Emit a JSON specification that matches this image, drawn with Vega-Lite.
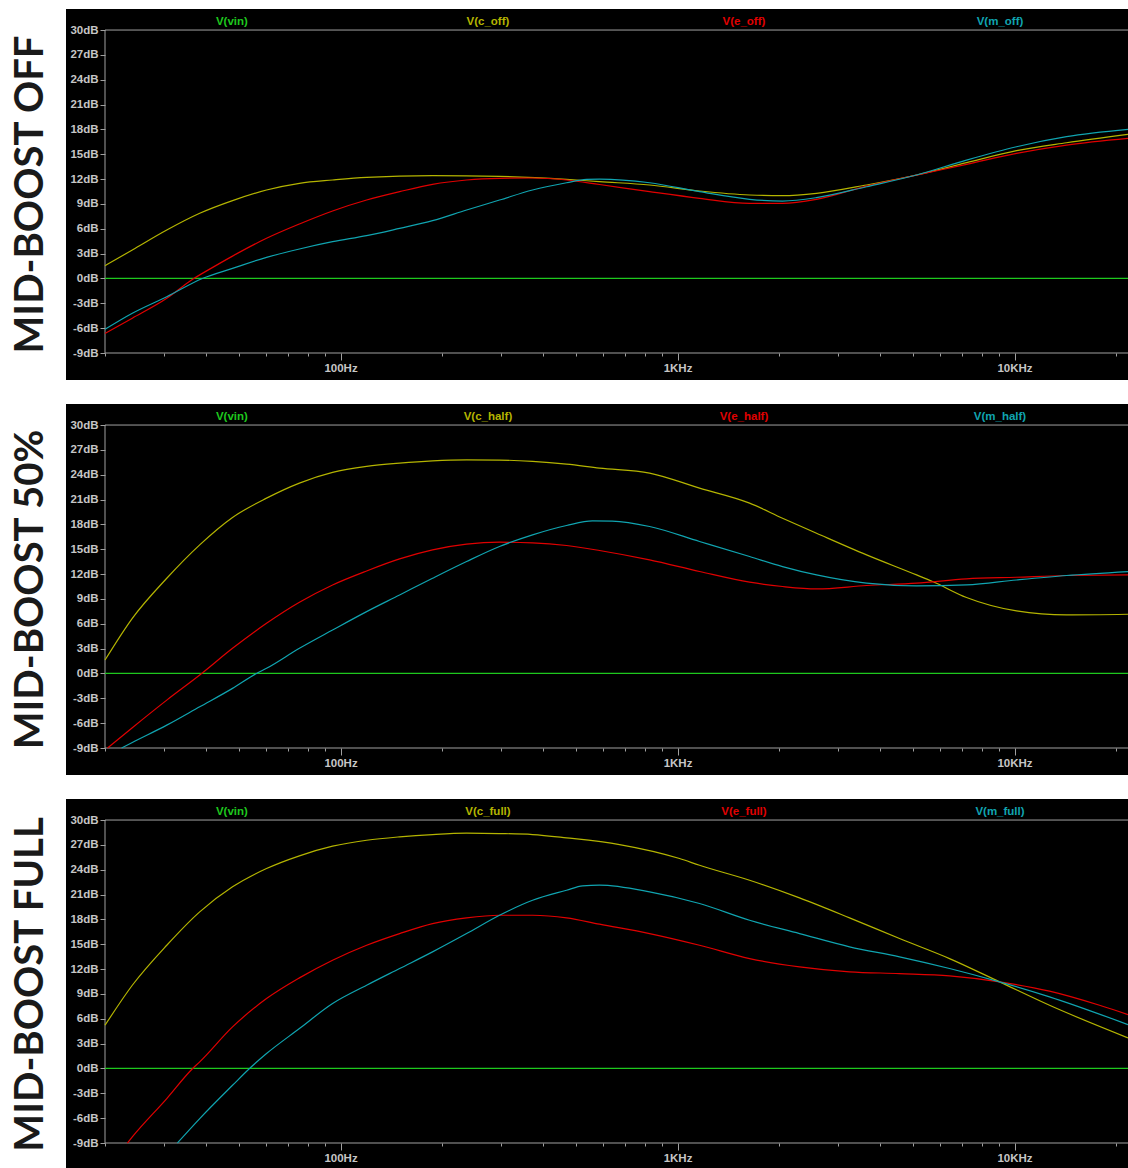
{
  "$schema": "https://vega.github.io/schema/vega-lite/v6.json",
  "background": "white",
  "padding": {"left": 10, "top": 9, "right": 0, "bottom": 0},
  "spacing": 24,
  "datasets": {
    "labels": [
      {"p": "off", "s": "V(vin)"}, {"p": "off", "s": "V(c_off)"}, {"p": "off", "s": "V(e_off)"}, {"p": "off", "s": "V(m_off)"},
      {"p": "half", "s": "V(vin)"}, {"p": "half", "s": "V(c_half)"}, {"p": "half", "s": "V(e_half)"}, {"p": "half", "s": "V(m_half)"},
      {"p": "full", "s": "V(vin)"}, {"p": "full", "s": "V(c_full)"}, {"p": "full", "s": "V(e_full)"}, {"p": "full", "s": "V(m_full)"}
    ],
    "curves": [
      {"p": "off", "s": "V(vin)", "f": 20, "db": 0}, {"p": "off", "s": "V(vin)", "f": 21713, "db": 0},
      {"p": "half", "s": "V(vin)", "f": 20, "db": 0}, {"p": "half", "s": "V(vin)", "f": 21713, "db": 0},
      {"p": "full", "s": "V(vin)", "f": 20, "db": 0}, {"p": "full", "s": "V(vin)", "f": 21713, "db": 0},

      {"p": "off", "s": "V(c_off)", "f": 20, "db": 1.54},
      {"p": "off", "s": "V(c_off)", "f": 24.1, "db": 3.44},
      {"p": "off", "s": "V(c_off)", "f": 30.5, "db": 5.85},
      {"p": "off", "s": "V(c_off)", "f": 38.2, "db": 7.87},
      {"p": "off", "s": "V(c_off)", "f": 47.8, "db": 9.4},
      {"p": "off", "s": "V(c_off)", "f": 60.3, "db": 10.68},
      {"p": "off", "s": "V(c_off)", "f": 75.5, "db": 11.49},
      {"p": "off", "s": "V(c_off)", "f": 94.7, "db": 11.89},
      {"p": "off", "s": "V(c_off)", "f": 119.5, "db": 12.21},
      {"p": "off", "s": "V(c_off)", "f": 187.5, "db": 12.41},
      {"p": "off", "s": "V(c_off)", "f": 296.3, "db": 12.33},
      {"p": "off", "s": "V(c_off)", "f": 468.4, "db": 11.97},
      {"p": "off", "s": "V(c_off)", "f": 586.8, "db": 11.69},
      {"p": "off", "s": "V(c_off)", "f": 826, "db": 11.29},
      {"p": "off", "s": "V(c_off)", "f": 1162, "db": 10.56},
      {"p": "off", "s": "V(c_off)", "f": 1636, "db": 10.08},
      {"p": "off", "s": "V(c_off)", "f": 2049, "db": 10.0},
      {"p": "off", "s": "V(c_off)", "f": 2585, "db": 10.28},
      {"p": "off", "s": "V(c_off)", "f": 3638, "db": 11.29},
      {"p": "off", "s": "V(c_off)", "f": 5120, "db": 12.49},
      {"p": "off", "s": "V(c_off)", "f": 7204, "db": 13.98},
      {"p": "off", "s": "V(c_off)", "f": 10137, "db": 15.43},
      {"p": "off", "s": "V(c_off)", "f": 14266, "db": 16.39},
      {"p": "off", "s": "V(c_off)", "f": 21713, "db": 17.4},

      {"p": "off", "s": "V(e_off)", "f": 20, "db": -6.63},
      {"p": "off", "s": "V(e_off)", "f": 24.1, "db": -4.8},
      {"p": "off", "s": "V(e_off)", "f": 30.5, "db": -2.4},
      {"p": "off", "s": "V(e_off)", "f": 36.4, "db": -0.1},
      {"p": "off", "s": "V(e_off)", "f": 42, "db": 1.4},
      {"p": "off", "s": "V(e_off)", "f": 47.8, "db": 2.7},
      {"p": "off", "s": "V(e_off)", "f": 60.3, "db": 4.85},
      {"p": "off", "s": "V(e_off)", "f": 75.5, "db": 6.58},
      {"p": "off", "s": "V(e_off)", "f": 94.7, "db": 8.15},
      {"p": "off", "s": "V(e_off)", "f": 119.5, "db": 9.47},
      {"p": "off", "s": "V(e_off)", "f": 149.7, "db": 10.48},
      {"p": "off", "s": "V(e_off)", "f": 187.5, "db": 11.37},
      {"p": "off", "s": "V(e_off)", "f": 236.6, "db": 11.89},
      {"p": "off", "s": "V(e_off)", "f": 296.3, "db": 12.09},
      {"p": "off", "s": "V(e_off)", "f": 371.3, "db": 12.13},
      {"p": "off", "s": "V(e_off)", "f": 468.4, "db": 11.89},
      {"p": "off", "s": "V(e_off)", "f": 586.8, "db": 11.35},
      {"p": "off", "s": "V(e_off)", "f": 826, "db": 10.48},
      {"p": "off", "s": "V(e_off)", "f": 1162, "db": 9.68},
      {"p": "off", "s": "V(e_off)", "f": 1636, "db": 9.07},
      {"p": "off", "s": "V(e_off)", "f": 2049, "db": 9.07},
      {"p": "off", "s": "V(e_off)", "f": 2585, "db": 9.56},
      {"p": "off", "s": "V(e_off)", "f": 3638, "db": 11.16},
      {"p": "off", "s": "V(e_off)", "f": 5120, "db": 12.49},
      {"p": "off", "s": "V(e_off)", "f": 7204, "db": 13.78},
      {"p": "off", "s": "V(e_off)", "f": 10137, "db": 15.11},
      {"p": "off", "s": "V(e_off)", "f": 14266, "db": 16.11},
      {"p": "off", "s": "V(e_off)", "f": 21713, "db": 16.92},

      {"p": "off", "s": "V(m_off)", "f": 20, "db": -6.14},
      {"p": "off", "s": "V(m_off)", "f": 24.1, "db": -4.2},
      {"p": "off", "s": "V(m_off)", "f": 30.5, "db": -2.2},
      {"p": "off", "s": "V(m_off)", "f": 38.9, "db": 0.0},
      {"p": "off", "s": "V(m_off)", "f": 47.8, "db": 1.22},
      {"p": "off", "s": "V(m_off)", "f": 60.3, "db": 2.55},
      {"p": "off", "s": "V(m_off)", "f": 75.5, "db": 3.56},
      {"p": "off", "s": "V(m_off)", "f": 94.7, "db": 4.44},
      {"p": "off", "s": "V(m_off)", "f": 119.5, "db": 5.17},
      {"p": "off", "s": "V(m_off)", "f": 149.7, "db": 6.05},
      {"p": "off", "s": "V(m_off)", "f": 187.5, "db": 6.98},
      {"p": "off", "s": "V(m_off)", "f": 236.6, "db": 8.27},
      {"p": "off", "s": "V(m_off)", "f": 296.3, "db": 9.47},
      {"p": "off", "s": "V(m_off)", "f": 371.3, "db": 10.68},
      {"p": "off", "s": "V(m_off)", "f": 468.4, "db": 11.56},
      {"p": "off", "s": "V(m_off)", "f": 537, "db": 11.97},
      {"p": "off", "s": "V(m_off)", "f": 586.8, "db": 12.0},
      {"p": "off", "s": "V(m_off)", "f": 826, "db": 11.56},
      {"p": "off", "s": "V(m_off)", "f": 1162, "db": 10.48},
      {"p": "off", "s": "V(m_off)", "f": 1636, "db": 9.56},
      {"p": "off", "s": "V(m_off)", "f": 2049, "db": 9.35},
      {"p": "off", "s": "V(m_off)", "f": 2585, "db": 9.76},
      {"p": "off", "s": "V(m_off)", "f": 3638, "db": 11.08},
      {"p": "off", "s": "V(m_off)", "f": 5120, "db": 12.49},
      {"p": "off", "s": "V(m_off)", "f": 7204, "db": 14.3},
      {"p": "off", "s": "V(m_off)", "f": 10137, "db": 15.91},
      {"p": "off", "s": "V(m_off)", "f": 14266, "db": 17.12},
      {"p": "off", "s": "V(m_off)", "f": 21713, "db": 18.0},

      {"p": "half", "s": "V(c_half)", "f": 20, "db": 1.62},
      {"p": "half", "s": "V(c_half)", "f": 24.1, "db": 6.66},
      {"p": "half", "s": "V(c_half)", "f": 30.5, "db": 11.5},
      {"p": "half", "s": "V(c_half)", "f": 38.2, "db": 15.53},
      {"p": "half", "s": "V(c_half)", "f": 47.8, "db": 18.84},
      {"p": "half", "s": "V(c_half)", "f": 60.3, "db": 21.17},
      {"p": "half", "s": "V(c_half)", "f": 75.5, "db": 22.99},
      {"p": "half", "s": "V(c_half)", "f": 94.7, "db": 24.28},
      {"p": "half", "s": "V(c_half)", "f": 119.5, "db": 25.0},
      {"p": "half", "s": "V(c_half)", "f": 149.7, "db": 25.4},
      {"p": "half", "s": "V(c_half)", "f": 187.5, "db": 25.68},
      {"p": "half", "s": "V(c_half)", "f": 236.6, "db": 25.8},
      {"p": "half", "s": "V(c_half)", "f": 296.3, "db": 25.77},
      {"p": "half", "s": "V(c_half)", "f": 371.3, "db": 25.61},
      {"p": "half", "s": "V(c_half)", "f": 468.4, "db": 25.28},
      {"p": "half", "s": "V(c_half)", "f": 586.8, "db": 24.8},
      {"p": "half", "s": "V(c_half)", "f": 826, "db": 24.2},
      {"p": "half", "s": "V(c_half)", "f": 1162, "db": 22.38},
      {"p": "half", "s": "V(c_half)", "f": 1636, "db": 20.57},
      {"p": "half", "s": "V(c_half)", "f": 2049, "db": 18.75},
      {"p": "half", "s": "V(c_half)", "f": 2585, "db": 16.94},
      {"p": "half", "s": "V(c_half)", "f": 3638, "db": 14.32},
      {"p": "half", "s": "V(c_half)", "f": 5120, "db": 11.9},
      {"p": "half", "s": "V(c_half)", "f": 5711, "db": 11.1},
      {"p": "half", "s": "V(c_half)", "f": 7204, "db": 9.17},
      {"p": "half", "s": "V(c_half)", "f": 10137, "db": 7.55},
      {"p": "half", "s": "V(c_half)", "f": 14266, "db": 7.07},
      {"p": "half", "s": "V(c_half)", "f": 21713, "db": 7.15},

      {"p": "half", "s": "V(e_half)", "f": 20.35, "db": -9.0},
      {"p": "half", "s": "V(e_half)", "f": 24.1, "db": -6.55},
      {"p": "half", "s": "V(e_half)", "f": 30.5, "db": -3.22},
      {"p": "half", "s": "V(e_half)", "f": 38.2, "db": -0.19},
      {"p": "half", "s": "V(e_half)", "f": 47.8, "db": 3.04},
      {"p": "half", "s": "V(e_half)", "f": 60.3, "db": 6.06},
      {"p": "half", "s": "V(e_half)", "f": 75.5, "db": 8.6},
      {"p": "half", "s": "V(e_half)", "f": 94.7, "db": 10.69},
      {"p": "half", "s": "V(e_half)", "f": 119.5, "db": 12.38},
      {"p": "half", "s": "V(e_half)", "f": 149.7, "db": 13.83},
      {"p": "half", "s": "V(e_half)", "f": 187.5, "db": 14.92},
      {"p": "half", "s": "V(e_half)", "f": 236.6, "db": 15.61},
      {"p": "half", "s": "V(e_half)", "f": 296.3, "db": 15.85},
      {"p": "half", "s": "V(e_half)", "f": 371.3, "db": 15.77},
      {"p": "half", "s": "V(e_half)", "f": 468.4, "db": 15.45},
      {"p": "half", "s": "V(e_half)", "f": 586.8, "db": 14.85},
      {"p": "half", "s": "V(e_half)", "f": 826, "db": 13.71},
      {"p": "half", "s": "V(e_half)", "f": 1162, "db": 12.31},
      {"p": "half", "s": "V(e_half)", "f": 1636, "db": 11.02},
      {"p": "half", "s": "V(e_half)", "f": 2049, "db": 10.5},
      {"p": "half", "s": "V(e_half)", "f": 2585, "db": 10.21},
      {"p": "half", "s": "V(e_half)", "f": 3638, "db": 10.62},
      {"p": "half", "s": "V(e_half)", "f": 5120, "db": 10.9},
      {"p": "half", "s": "V(e_half)", "f": 7204, "db": 11.42},
      {"p": "half", "s": "V(e_half)", "f": 10137, "db": 11.62},
      {"p": "half", "s": "V(e_half)", "f": 14266, "db": 11.83},
      {"p": "half", "s": "V(e_half)", "f": 21713, "db": 11.9},

      {"p": "half", "s": "V(m_half)", "f": 22.4, "db": -9.0},
      {"p": "half", "s": "V(m_half)", "f": 24.1, "db": -8.33},
      {"p": "half", "s": "V(m_half)", "f": 30.5, "db": -6.24},
      {"p": "half", "s": "V(m_half)", "f": 38.2, "db": -4.02},
      {"p": "half", "s": "V(m_half)", "f": 47.8, "db": -1.8},
      {"p": "half", "s": "V(m_half)", "f": 56.3, "db": 0.0},
      {"p": "half", "s": "V(m_half)", "f": 60.3, "db": 0.62},
      {"p": "half", "s": "V(m_half)", "f": 75.5, "db": 3.04},
      {"p": "half", "s": "V(m_half)", "f": 94.7, "db": 5.25},
      {"p": "half", "s": "V(m_half)", "f": 119.5, "db": 7.47},
      {"p": "half", "s": "V(m_half)", "f": 149.7, "db": 9.48},
      {"p": "half", "s": "V(m_half)", "f": 187.5, "db": 11.5},
      {"p": "half", "s": "V(m_half)", "f": 236.6, "db": 13.52},
      {"p": "half", "s": "V(m_half)", "f": 296.3, "db": 15.33},
      {"p": "half", "s": "V(m_half)", "f": 371.3, "db": 16.74},
      {"p": "half", "s": "V(m_half)", "f": 468.4, "db": 17.87},
      {"p": "half", "s": "V(m_half)", "f": 559.5, "db": 18.43},
      {"p": "half", "s": "V(m_half)", "f": 640, "db": 18.4},
      {"p": "half", "s": "V(m_half)", "f": 826, "db": 17.75},
      {"p": "half", "s": "V(m_half)", "f": 1162, "db": 15.94},
      {"p": "half", "s": "V(m_half)", "f": 1636, "db": 14.12},
      {"p": "half", "s": "V(m_half)", "f": 2049, "db": 12.91},
      {"p": "half", "s": "V(m_half)", "f": 2585, "db": 11.9},
      {"p": "half", "s": "V(m_half)", "f": 3638, "db": 10.9},
      {"p": "half", "s": "V(m_half)", "f": 5120, "db": 10.57},
      {"p": "half", "s": "V(m_half)", "f": 7204, "db": 10.69},
      {"p": "half", "s": "V(m_half)", "f": 10137, "db": 11.29},
      {"p": "half", "s": "V(m_half)", "f": 14266, "db": 11.83},
      {"p": "half", "s": "V(m_half)", "f": 21713, "db": 12.31},

      {"p": "full", "s": "V(c_full)", "f": 20, "db": 5.22},
      {"p": "full", "s": "V(c_full)", "f": 24.1, "db": 10.05},
      {"p": "full", "s": "V(c_full)", "f": 30.5, "db": 14.88},
      {"p": "full", "s": "V(c_full)", "f": 38.2, "db": 18.91},
      {"p": "full", "s": "V(c_full)", "f": 47.8, "db": 21.93},
      {"p": "full", "s": "V(c_full)", "f": 60.3, "db": 24.14},
      {"p": "full", "s": "V(c_full)", "f": 75.5, "db": 25.68},
      {"p": "full", "s": "V(c_full)", "f": 94.7, "db": 26.84},
      {"p": "full", "s": "V(c_full)", "f": 119.5, "db": 27.56},
      {"p": "full", "s": "V(c_full)", "f": 149.7, "db": 27.97},
      {"p": "full", "s": "V(c_full)", "f": 187.5, "db": 28.25},
      {"p": "full", "s": "V(c_full)", "f": 236.6, "db": 28.41},
      {"p": "full", "s": "V(c_full)", "f": 296.3, "db": 28.37},
      {"p": "full", "s": "V(c_full)", "f": 371.3, "db": 28.25},
      {"p": "full", "s": "V(c_full)", "f": 468.4, "db": 27.85},
      {"p": "full", "s": "V(c_full)", "f": 672.8, "db": 27.04},
      {"p": "full", "s": "V(c_full)", "f": 1014, "db": 25.35},
      {"p": "full", "s": "V(c_full)", "f": 1162, "db": 24.54},
      {"p": "full", "s": "V(c_full)", "f": 1636, "db": 22.73},
      {"p": "full", "s": "V(c_full)", "f": 2301, "db": 20.6},
      {"p": "full", "s": "V(c_full)", "f": 3239, "db": 18.19},
      {"p": "full", "s": "V(c_full)", "f": 4558, "db": 15.69},
      {"p": "full", "s": "V(c_full)", "f": 6414, "db": 13.27},
      {"p": "full", "s": "V(c_full)", "f": 9026, "db": 10.46},
      {"p": "full", "s": "V(c_full)", "f": 12702, "db": 7.63},
      {"p": "full", "s": "V(c_full)", "f": 21713, "db": 3.7},

      {"p": "full", "s": "V(e_full)", "f": 23.3, "db": -9.0},
      {"p": "full", "s": "V(e_full)", "f": 24.1, "db": -8.26},
      {"p": "full", "s": "V(e_full)", "f": 30.5, "db": -3.63},
      {"p": "full", "s": "V(e_full)", "f": 36.4, "db": 0.0},
      {"p": "full", "s": "V(e_full)", "f": 38.2, "db": 0.8},
      {"p": "full", "s": "V(e_full)", "f": 47.8, "db": 5.02},
      {"p": "full", "s": "V(e_full)", "f": 60.3, "db": 8.44},
      {"p": "full", "s": "V(e_full)", "f": 75.5, "db": 10.94},
      {"p": "full", "s": "V(e_full)", "f": 94.7, "db": 13.07},
      {"p": "full", "s": "V(e_full)", "f": 119.5, "db": 14.88},
      {"p": "full", "s": "V(e_full)", "f": 149.7, "db": 16.29},
      {"p": "full", "s": "V(e_full)", "f": 187.5, "db": 17.5},
      {"p": "full", "s": "V(e_full)", "f": 236.6, "db": 18.19},
      {"p": "full", "s": "V(e_full)", "f": 296.3, "db": 18.5},
      {"p": "full", "s": "V(e_full)", "f": 371.3, "db": 18.5},
      {"p": "full", "s": "V(e_full)", "f": 468.4, "db": 18.19},
      {"p": "full", "s": "V(e_full)", "f": 586.8, "db": 17.42},
      {"p": "full", "s": "V(e_full)", "f": 826, "db": 16.29},
      {"p": "full", "s": "V(e_full)", "f": 1162, "db": 14.88},
      {"p": "full", "s": "V(e_full)", "f": 1636, "db": 13.27},
      {"p": "full", "s": "V(e_full)", "f": 2301, "db": 12.27},
      {"p": "full", "s": "V(e_full)", "f": 3239, "db": 11.67},
      {"p": "full", "s": "V(e_full)", "f": 4558, "db": 11.46},
      {"p": "full", "s": "V(e_full)", "f": 6414, "db": 11.18},
      {"p": "full", "s": "V(e_full)", "f": 9026, "db": 10.46},
      {"p": "full", "s": "V(e_full)", "f": 12702, "db": 9.33},
      {"p": "full", "s": "V(e_full)", "f": 17875, "db": 7.63},
      {"p": "full", "s": "V(e_full)", "f": 21713, "db": 6.51},

      {"p": "full", "s": "V(m_full)", "f": 32.8, "db": -9.0},
      {"p": "full", "s": "V(m_full)", "f": 38.2, "db": -6.05},
      {"p": "full", "s": "V(m_full)", "f": 47.8, "db": -2.03},
      {"p": "full", "s": "V(m_full)", "f": 53.7, "db": 0.0},
      {"p": "full", "s": "V(m_full)", "f": 60.3, "db": 1.8},
      {"p": "full", "s": "V(m_full)", "f": 75.5, "db": 4.82},
      {"p": "full", "s": "V(m_full)", "f": 94.7, "db": 7.84},
      {"p": "full", "s": "V(m_full)", "f": 119.5, "db": 10.05},
      {"p": "full", "s": "V(m_full)", "f": 149.7, "db": 12.07},
      {"p": "full", "s": "V(m_full)", "f": 187.5, "db": 14.08},
      {"p": "full", "s": "V(m_full)", "f": 236.6, "db": 16.29},
      {"p": "full", "s": "V(m_full)", "f": 296.3, "db": 18.5},
      {"p": "full", "s": "V(m_full)", "f": 371.3, "db": 20.31},
      {"p": "full", "s": "V(m_full)", "f": 468.4, "db": 21.52},
      {"p": "full", "s": "V(m_full)", "f": 522.6, "db": 22.05},
      {"p": "full", "s": "V(m_full)", "f": 586.8, "db": 22.13},
      {"p": "full", "s": "V(m_full)", "f": 826, "db": 21.33},
      {"p": "full", "s": "V(m_full)", "f": 1162, "db": 19.92},
      {"p": "full", "s": "V(m_full)", "f": 1636, "db": 17.9},
      {"p": "full", "s": "V(m_full)", "f": 2301, "db": 16.29},
      {"p": "full", "s": "V(m_full)", "f": 3239, "db": 14.69},
      {"p": "full", "s": "V(m_full)", "f": 4558, "db": 13.48},
      {"p": "full", "s": "V(m_full)", "f": 6414, "db": 12.07},
      {"p": "full", "s": "V(m_full)", "f": 9026, "db": 10.46},
      {"p": "full", "s": "V(m_full)", "f": 12702, "db": 8.65},
      {"p": "full", "s": "V(m_full)", "f": 21713, "db": 5.3}
    ]
  },
  "vconcat": [
    {
      "width": 1062, "height": 371,
      "title": "MID-BOOST OFF",
      "layer": [
        {
          "data": {"name": "labels"},
          "transform": [{"filter": "datum.p == 'off'"}],
          "mark": {"type": "text", "font": "Liberation Sans", "fontWeight": "bold", "fontSize": 11.5, "baseline": "middle"},
          "encoding": {
            "x": {"field": "s", "type": "nominal", "scale": {"type": "band", "domain": ["V(vin)", "V(c_off)", "V(e_off)", "V(m_off)"], "paddingInner": 0, "paddingOuter": 0.074, "align": 1}, "axis": null},
            "y": {"datum": 31.0, "type": "quantitative", "scale": {"domain": [-12.26, 32.54], "nice": false, "zero": false},
              "axis": {"title": null, "grid": false, "domain": false, "offset": -39, "tickCount": 50, "values": [-9, -6, -3, 0, 3, 6, 9, 12, 15, 18, 21, 24, 27, 30], "labelExpr": "datum.value + 'dB'", "tickSize": 5, "labelPadding": 2, "labelOverlap": false, "labelFlush": false, "tickColor": "#a0a0a0", "labelColor": "#c6c6c6", "labelFont": "Liberation Sans", "labelFontWeight": "bold", "labelFontSize": 11.5}},
            "text": {"field": "s"},
            "color": {"field": "s", "type": "nominal", "scale": {"domain": ["V(vin)", "V(c_off)", "V(e_off)", "V(m_off)"], "range": ["#1ec81e", "#b4b400", "#e00000", "#10a4b0"]}, "legend": null}
          }
        },
        {
          "layer": [
            {"data": {"values": [{}]}, "mark": {"type": "rule", "color": "#a0a0a0"}, "encoding": {"x": {"datum": 20, "type": "quantitative", "scale": {"type": "log", "domain": [15.32, 21713], "nice": false}}, "x2": {"datum": 21713}, "y": {"datum": 30, "type": "quantitative"}}},
            {"data": {"values": [{}]}, "mark": {"type": "rule", "color": "#a0a0a0"}, "encoding": {"x": {"datum": 20, "type": "quantitative"}, "x2": {"datum": 21713}, "y": {"datum": -9, "type": "quantitative"}}},
            {"data": {"values": [{}]}, "mark": {"type": "rule", "color": "#a0a0a0"}, "encoding": {"x": {"datum": 20, "type": "quantitative"}, "y": {"datum": -9, "type": "quantitative"}, "y2": {"datum": 30}}},
            {
              "data": {"name": "curves"},
              "transform": [{"filter": "datum.p == 'off'"}],
              "mark": {"type": "line", "strokeWidth": 1.2, "interpolate": "monotone"},
              "encoding": {
                "x": {"field": "f", "type": "quantitative", "scale": {"type": "log", "domain": [15.32, 21713], "nice": false},
                  "axis": {"title": null, "grid": false, "domain": false, "offset": -27, "tickCount": 100, "values": [20, 30, 40, 50, 60, 70, 80, 90, 100, 200, 300, 400, 500, 600, 700, 800, 900, 1000, 2000, 3000, 4000, 5000, 6000, 7000, 8000, 9000, 10000, 20000],
                    "labelExpr": "datum.value == 100 ? '100Hz' : datum.value == 1000 ? '1KHz' : datum.value == 10000 ? '10KHz' : ''",
                    "labelOverlap": false, "labelFlush": false, "labelPadding": 2,
                    "tickSize": {"condition": {"test": "datum.value == 100 || datum.value == 1000 || datum.value == 10000", "value": 7}, "value": 3},
                    "tickColor": "#a0a0a0", "labelColor": "#c6c6c6", "labelFont": "Liberation Sans", "labelFontWeight": "bold", "labelFontSize": 11.5}},
                "y": {"field": "db", "type": "quantitative",
                  "axis": {"title": null, "grid": false, "domain": false, "offset": -39, "tickCount": 50, "values": [-9, -6, -3, 0, 3, 6, 9, 12, 15, 18, 21, 24, 27, 30], "labelExpr": "datum.value + 'dB'", "tickSize": 5, "labelPadding": 2, "labelOverlap": false, "labelFlush": false, "tickColor": "#a0a0a0", "labelColor": "#c6c6c6", "labelFont": "Liberation Sans", "labelFontWeight": "bold", "labelFontSize": 11.5}},
                "color": {"field": "s", "type": "nominal", "legend": null}
              }
            }
          ]
        }
      ],
      "resolve": {"scale": {"x": "independent"}}
    },
    {
      "width": 1062, "height": 371,
      "title": "MID-BOOST 50%",
      "layer": [
        {
          "data": {"name": "labels"},
          "transform": [{"filter": "datum.p == 'half'"}],
          "mark": {"type": "text", "font": "Liberation Sans", "fontWeight": "bold", "fontSize": 11.5, "baseline": "middle"},
          "encoding": {
            "x": {"field": "s", "type": "nominal", "scale": {"type": "band", "domain": ["V(vin)", "V(c_half)", "V(e_half)", "V(m_half)"], "paddingInner": 0, "paddingOuter": 0.074, "align": 1}, "axis": null},
            "y": {"datum": 31.0, "type": "quantitative", "scale": {"domain": [-12.26, 32.54], "nice": false, "zero": false},
              "axis": {"title": null, "grid": false, "domain": false, "offset": -39, "tickCount": 50, "values": [-9, -6, -3, 0, 3, 6, 9, 12, 15, 18, 21, 24, 27, 30], "labelExpr": "datum.value + 'dB'", "tickSize": 5, "labelPadding": 2, "labelOverlap": false, "labelFlush": false, "tickColor": "#a0a0a0", "labelColor": "#c6c6c6", "labelFont": "Liberation Sans", "labelFontWeight": "bold", "labelFontSize": 11.5}},
            "text": {"field": "s"},
            "color": {"field": "s", "type": "nominal", "scale": {"domain": ["V(vin)", "V(c_half)", "V(e_half)", "V(m_half)"], "range": ["#1ec81e", "#b4b400", "#e00000", "#10a4b0"]}, "legend": null}
          }
        },
        {
          "layer": [
            {"data": {"values": [{}]}, "mark": {"type": "rule", "color": "#a0a0a0"}, "encoding": {"x": {"datum": 20, "type": "quantitative", "scale": {"type": "log", "domain": [15.32, 21713], "nice": false}}, "x2": {"datum": 21713}, "y": {"datum": 30, "type": "quantitative"}}},
            {"data": {"values": [{}]}, "mark": {"type": "rule", "color": "#a0a0a0"}, "encoding": {"x": {"datum": 20, "type": "quantitative"}, "x2": {"datum": 21713}, "y": {"datum": -9, "type": "quantitative"}}},
            {"data": {"values": [{}]}, "mark": {"type": "rule", "color": "#a0a0a0"}, "encoding": {"x": {"datum": 20, "type": "quantitative"}, "y": {"datum": -9, "type": "quantitative"}, "y2": {"datum": 30}}},
            {
              "data": {"name": "curves"},
              "transform": [{"filter": "datum.p == 'half'"}],
              "mark": {"type": "line", "strokeWidth": 1.2, "interpolate": "monotone"},
              "encoding": {
                "x": {"field": "f", "type": "quantitative", "scale": {"type": "log", "domain": [15.32, 21713], "nice": false},
                  "axis": {"title": null, "grid": false, "domain": false, "offset": -27, "tickCount": 100, "values": [20, 30, 40, 50, 60, 70, 80, 90, 100, 200, 300, 400, 500, 600, 700, 800, 900, 1000, 2000, 3000, 4000, 5000, 6000, 7000, 8000, 9000, 10000, 20000],
                    "labelExpr": "datum.value == 100 ? '100Hz' : datum.value == 1000 ? '1KHz' : datum.value == 10000 ? '10KHz' : ''",
                    "labelOverlap": false, "labelFlush": false, "labelPadding": 2,
                    "tickSize": {"condition": {"test": "datum.value == 100 || datum.value == 1000 || datum.value == 10000", "value": 7}, "value": 3},
                    "tickColor": "#a0a0a0", "labelColor": "#c6c6c6", "labelFont": "Liberation Sans", "labelFontWeight": "bold", "labelFontSize": 11.5}},
                "y": {"field": "db", "type": "quantitative",
                  "axis": {"title": null, "grid": false, "domain": false, "offset": -39, "tickCount": 50, "values": [-9, -6, -3, 0, 3, 6, 9, 12, 15, 18, 21, 24, 27, 30], "labelExpr": "datum.value + 'dB'", "tickSize": 5, "labelPadding": 2, "labelOverlap": false, "labelFlush": false, "tickColor": "#a0a0a0", "labelColor": "#c6c6c6", "labelFont": "Liberation Sans", "labelFontWeight": "bold", "labelFontSize": 11.5}},
                "color": {"field": "s", "type": "nominal", "legend": null}
              }
            }
          ]
        }
      ],
      "resolve": {"scale": {"x": "independent"}}
    },
    {
      "width": 1062, "height": 371,
      "title": "MID-BOOST FULL",
      "layer": [
        {
          "data": {"name": "labels"},
          "transform": [{"filter": "datum.p == 'full'"}],
          "mark": {"type": "text", "font": "Liberation Sans", "fontWeight": "bold", "fontSize": 11.5, "baseline": "middle"},
          "encoding": {
            "x": {"field": "s", "type": "nominal", "scale": {"type": "band", "domain": ["V(vin)", "V(c_full)", "V(e_full)", "V(m_full)"], "paddingInner": 0, "paddingOuter": 0.074, "align": 1}, "axis": null},
            "y": {"datum": 31.0, "type": "quantitative", "scale": {"domain": [-12.26, 32.54], "nice": false, "zero": false},
              "axis": {"title": null, "grid": false, "domain": false, "offset": -39, "tickCount": 50, "values": [-9, -6, -3, 0, 3, 6, 9, 12, 15, 18, 21, 24, 27, 30], "labelExpr": "datum.value + 'dB'", "tickSize": 5, "labelPadding": 2, "labelOverlap": false, "labelFlush": false, "tickColor": "#a0a0a0", "labelColor": "#c6c6c6", "labelFont": "Liberation Sans", "labelFontWeight": "bold", "labelFontSize": 11.5}},
            "text": {"field": "s"},
            "color": {"field": "s", "type": "nominal", "scale": {"domain": ["V(vin)", "V(c_full)", "V(e_full)", "V(m_full)"], "range": ["#1ec81e", "#b4b400", "#e00000", "#10a4b0"]}, "legend": null}
          }
        },
        {
          "layer": [
            {"data": {"values": [{}]}, "mark": {"type": "rule", "color": "#a0a0a0"}, "encoding": {"x": {"datum": 20, "type": "quantitative", "scale": {"type": "log", "domain": [15.32, 21713], "nice": false}}, "x2": {"datum": 21713}, "y": {"datum": 30, "type": "quantitative"}}},
            {"data": {"values": [{}]}, "mark": {"type": "rule", "color": "#a0a0a0"}, "encoding": {"x": {"datum": 20, "type": "quantitative"}, "x2": {"datum": 21713}, "y": {"datum": -9, "type": "quantitative"}}},
            {"data": {"values": [{}]}, "mark": {"type": "rule", "color": "#a0a0a0"}, "encoding": {"x": {"datum": 20, "type": "quantitative"}, "y": {"datum": -9, "type": "quantitative"}, "y2": {"datum": 30}}},
            {
              "data": {"name": "curves"},
              "transform": [{"filter": "datum.p == 'full'"}],
              "mark": {"type": "line", "strokeWidth": 1.2, "interpolate": "monotone"},
              "encoding": {
                "x": {"field": "f", "type": "quantitative", "scale": {"type": "log", "domain": [15.32, 21713], "nice": false},
                  "axis": {"title": null, "grid": false, "domain": false, "offset": -27, "tickCount": 100, "values": [20, 30, 40, 50, 60, 70, 80, 90, 100, 200, 300, 400, 500, 600, 700, 800, 900, 1000, 2000, 3000, 4000, 5000, 6000, 7000, 8000, 9000, 10000, 20000],
                    "labelExpr": "datum.value == 100 ? '100Hz' : datum.value == 1000 ? '1KHz' : datum.value == 10000 ? '10KHz' : ''",
                    "labelOverlap": false, "labelFlush": false, "labelPadding": 2,
                    "tickSize": {"condition": {"test": "datum.value == 100 || datum.value == 1000 || datum.value == 10000", "value": 7}, "value": 3},
                    "tickColor": "#a0a0a0", "labelColor": "#c6c6c6", "labelFont": "Liberation Sans", "labelFontWeight": "bold", "labelFontSize": 11.5}},
                "y": {"field": "db", "type": "quantitative",
                  "axis": {"title": null, "grid": false, "domain": false, "offset": -39, "tickCount": 50, "values": [-9, -6, -3, 0, 3, 6, 9, 12, 15, 18, 21, 24, 27, 30], "labelExpr": "datum.value + 'dB'", "tickSize": 5, "labelPadding": 2, "labelOverlap": false, "labelFlush": false, "tickColor": "#a0a0a0", "labelColor": "#c6c6c6", "labelFont": "Liberation Sans", "labelFontWeight": "bold", "labelFontSize": 11.5}},
                "color": {"field": "s", "type": "nominal", "legend": null}
              }
            }
          ]
        }
      ],
      "resolve": {"scale": {"x": "independent"}}
    }
  ],
  "resolve": {"scale": {"color": "independent", "x": "independent", "y": "independent"}},
  "config": {
    "view": {"fill": "black", "stroke": null},
    "title": {"orient": "left", "anchor": "middle", "font": "Lato", "fontSize": 40, "fontWeight": "bold", "color": "#1a1a1a", "offset": 15, "frame": "group"}
  }
}
